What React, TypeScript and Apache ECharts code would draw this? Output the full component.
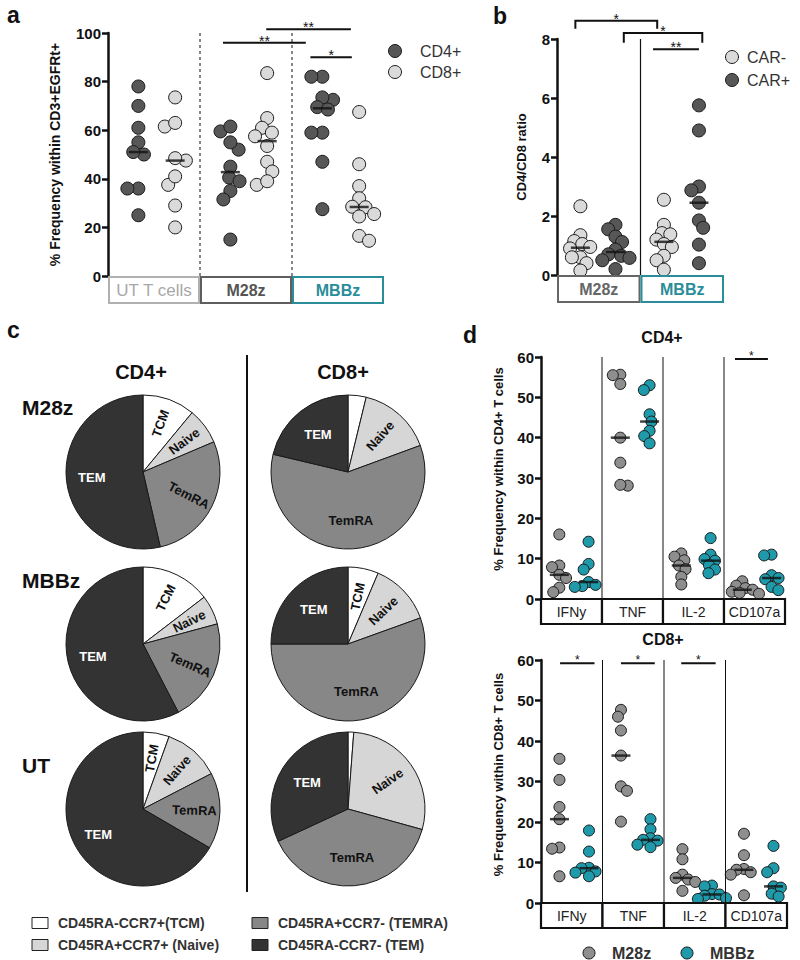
import React, { useEffect, useRef } from "react";
import * as echarts from "echarts";

const FONT = 'Arial, "Liberation Sans", Helvetica, sans-serif';

// ---------------- Panel a data ----------------
const aGroups = ["UT T cells", "M28z", "MBBz"];
const aSeriesNames = ["CD4+", "CD8+"];
const aCD4 = [
  [78, 70, 61, 55, 50, 51, 36, 36, 25],
  [59.5, 61.5, 52, 55, 45, 40.5, 39, 35, 31.5, 15],
  [82, 82, 72.5, 73.5, 69.5, 68.5, 59, 59, 47, 27.5],
];
const aCD8 = [
  [73.5, 61.5, 63, 47.5, 48.5, 37.5, 41, 29, 20],
  [83.5, 65, 61, 59, 57.5, 53.5, 47, 43, 37.5, 39],
  [67.5, 46, 37, 32, 28.3, 28.5, 24.5, 25.5, 16.5, 14.5],
];
const aYMax = 100;
const aYInterval = 20;
// [fromX, toX, y, label] in axis units
const aSig: [number, number, number, string][] = [
  [1.25, 2.15, 96, "**"],
  [1.72, 2.64, 101.5, "**"],
  [2.2, 2.65, 90, "*"],
];

// ---------------- Panel b data ----------------
const bGroups = ["M28z", "MBBz"];
const bSeriesNames = ["CAR-", "CAR+"];
const bCARneg = [
  [2.33, 1.35, 1.15, 1.05, 0.95, 0.9, 0.6, 0.6, 0.4, 0.15],
  [2.55, 1.7, 1.42, 1.38, 1.2, 1.05, 0.95, 0.65, 0.5, 0.18],
];
const bCARpos = [
  [1.7, 1.55, 1.3, 1.12, 0.86, 0.7, 0.65, 0.58, 0.5, 0.2],
  [5.75, 4.9, 3.0, 2.87, 2.45, 1.85, 1.6, 1.03, 0.4],
];
const bYMax = 8;
const bYInterval = 2;
// [fromX, toX, top, foot, label]
const bSig: [number, number, number, number, string][] = [
  [0.22, 1.2, 8.62, 8.35, "*"],
  [0.8, 1.74, 8.2, 7.87, "*"],
  [1.15, 1.7, 7.65, 7.65, "**"],
];

// ---------------- Panel c data ----------------
const subsetNames = ["TCM", "Naive", "TemRA", "TEM"];
const subsetLegend = [
  "CD45RA-CCR7+(TCM)",
  "CD45RA+CCR7+ (Naive)",
  "CD45RA+CCR7- (TEMRA)",
  "CD45RA-CCR7- (TEM)",
];
const pieRowNames = ["M28z", "MBBz", "UT"];
const pieColNames = ["CD4+", "CD8+"];
const pieCD4 = [
  [11, 7.6, 27.8, 53.6],
  [14.6, 6.2, 21.6, 57.6],
  [5.5, 11.9, 16, 66.6],
];
const pieCD8 = [
  [3.8, 15.6, 59.3, 21.3],
  [6.4, 13.1, 55.5, 25],
  [1.2, 28.1, 38.8, 31.9],
];

// ---------------- Panel d data ----------------
const dCats = ["IFNy", "TNF", "IL-2", "CD107a"];
const dSeriesNames = ["M28z", "MBBz"];
const dTitles = ["CD4+", "CD8+"];
const dCD4M28z = [
  [16, 8.3, 7.9, 6, 5.2, 2.8, 1.7],
  [55.6, 55.5, 53.3, 40, 33.8, 28.1, 28.3],
  [11.3, 10.5, 9.6, 8.3, 7.4, 5.5, 3.6],
  [4.4, 3.3, 2.7, 2.3, 1.8, 1.5, 1.3],
];
const dCD4MBBz = [
  [14.2, 8.7, 7.3, 4.2, 3.5, 3.2, 3.0],
  [53, 51.8, 45.8, 44, 41.7, 40.4, 38.6],
  [15.1, 11, 9.9, 9.5, 8.4, 7.3, 6.4],
  [11, 10.8, 5.9, 5.2, 4.9, 3, 2.2],
];
const dCD8M28z = [
  [35.6, 30.4, 23.7, 20.7, 13.7, 13.4, 6.6],
  [47.7, 46, 42.6, 36.4, 28.8, 27.7, 20.1],
  [13.3, 10.8, 7, 6.2, 5.8, 5.2, 3],
  [17.1, 11.8, 8.4, 8.2, 7.6, 7, 1.9],
];
const dCD8MBBz = [
  [17.9, 12.7, 8.7, 8.6, 7.8, 7.5, 6.6],
  [20.7, 18.2, 16, 15.6, 15.4, 14.4, 13.8],
  [4.3, 4.1, 2.2, 2.1, 1.8, 1.2, 1],
  [14.1, 8.6, 7.6, 4.1, 3.8, 2.3, 1.6],
];
const dYMax = 60;
const dYInterval = 10;
const d1Sig: [number, number, number, string][] = [[3.18, 3.72, 59.5, "*"]];
const d2Sig: [number, number, number, string][] = [
  [0.31, 0.87, 59.2, "*"],
  [1.3, 1.85, 59.2, "*"],
  [2.28, 2.84, 59.2, "*"],
];

// ---------------- Layout / style ----------------
type Box = { left: number; top: number; width: number; height: number };
const A: Box = { left: 108, top: 33, width: 276, height: 243 };
const B: Box = { left: 557, top: 39, width: 167, height: 236 };
const D1: Box = { left: 541, top: 357, width: 244, height: 242 };
const D2: Box = { left: 541, top: 660, width: 246, height: 243 };
const PIE = { cx: [143, 348], cy: [472, 644, 809], r: 77 };

const DARK = "#575757";
const LIGHT = "#dadada";
const GREY_D = "#8e8e8e";
const TEAL = "#1f9aab";
const TEAL_BOX = "#2a8d99";
const subsetColors = ["#ffffff", "#d6d6d6", "#878787", "#333333"];

function median(a: number[]) {
  const s = [...a].sort((x, y) => x - y);
  const n = s.length;
  return n % 2 ? s[(n - 1) / 2] : (s[n / 2 - 1] + s[n / 2]) / 2;
}

// simple beeswarm: returns horizontal pixel offsets
function swarm(values: number[], pxPerUnit: number, d: number): number[] {
  const order = values.map((_, i) => i).sort((a, b) => values[b] - values[a]);
  const placed: { x: number; y: number }[] = [];
  const out: number[] = new Array(values.length).fill(0);
  let flip = 1;
  for (const i of order) {
    const y = values[i] * pxPerUnit;
    const near = placed.filter((p) => Math.abs(p.y - y) < d);
    const cands = [0];
    near.forEach((p) => {
      const w = Math.sqrt(d * d - (p.y - y) * (p.y - y));
      cands.push(p.x + w, p.x - w);
    });
    cands.sort((a, b) => Math.abs(a) - Math.abs(b) || flip * (a - b));
    let x = 0;
    for (const c of cands) {
      if (near.every((p) => Math.hypot(p.x - c, p.y - y) >= d - 0.01)) {
        x = c;
        break;
      }
    }
    if (x !== 0) flip = -flip;
    placed.push({ x, y });
    out[i] = x;
  }
  return out;
}

function swarmPoints(values: number[], xc: number, pxY: number, pxX: number, d: number) {
  const offs = swarm(values, pxY, d);
  return values.map((v, i) => [xc + offs[i] / pxX, v]);
}

const mapX = (P: Box, n: number, v: number) => P.left + (v / n) * P.width;
const mapY = (P: Box, max: number, v: number) => P.top + (1 - v / max) * P.height;

function buildOption() {
  const G: any[] = [];
  const txt = (x: number, y: number, text: string, o: any = {}) =>
    G.push({
      type: "text",
      x,
      y,
      rotation: o.rotation || 0,
      silent: true,
      z: 10,
      style: {
        text,
        fill: o.color || "#111",
        font: `${o.weight || "normal"} ${o.size || 14}px ${FONT}`,
        align: o.align || "center",
        verticalAlign: o.va || "middle",
        textAlign: o.align || "center",
        textVerticalAlign: o.va || "middle",
      },
    });
  const line = (x1: number, y1: number, x2: number, y2: number, o: any = {}) =>
    G.push({
      type: "line",
      silent: true,
      z: 10,
      shape: { x1, y1, x2, y2 },
      style: { stroke: o.color || "#111", lineWidth: o.width || 1, lineDash: o.dash || null },
    });
  const rect = (x: number, y: number, w: number, h: number, stroke: string, lw: number, fill = "#fff") =>
    G.push({
      type: "rect",
      silent: true,
      z: 9,
      shape: { x, y, width: w, height: h },
      style: { fill, stroke, lineWidth: lw },
    });
  const circle = (cx: number, cy: number, r: number, fill: string) =>
    G.push({
      type: "circle",
      silent: true,
      z: 10,
      shape: { cx, cy, r },
      style: { fill, stroke: "#1a1a1a", lineWidth: 1 },
    });

  // ---------- panel labels ----------
  txt(7, 15, "a", { size: 23, weight: "bold", align: "left" });
  txt(493, 16, "b", { size: 23, weight: "bold", align: "left" });
  txt(7, 330, "c", { size: 23, weight: "bold", align: "left" });
  txt(463, 335, "d", { size: 23, weight: "bold", align: "left" });

  // ---------- panel a ----------
  for (let k = 1; k < aGroups.length; k++) {
    line(mapX(A, 3, k), A.top, mapX(A, 3, k), A.top + A.height, { dash: [3, 3], width: 1 });
  }
  const aBoxStroke = ["#b0b0b0", "#5e5e5e", TEAL_BOX];
  const aBoxText = ["#a8a8a8", "#555555", TEAL_BOX];
  const aBoxWeight = ["normal", "bold", "bold"];
  const aBoxSize = [17, 16, 16];
  aGroups.forEach((g, gi) => {
    const x0 = mapX(A, 3, gi);
    const w = A.width / 3;
    rect(x0 + 1, A.top + A.height + 1, w - 2, 26, aBoxStroke[gi], 2);
    txt(x0 + w / 2, A.top + A.height + 14.5, g, {
      color: aBoxText[gi],
      weight: aBoxWeight[gi],
      size: aBoxSize[gi],
    });
  });
  aSig.forEach(([x1, x2, y, lab]) => {
    const yy = mapY(A, aYMax, y);
    line(mapX(A, 3, x1), yy, mapX(A, 3, x2), yy, { width: 2 });
    txt((mapX(A, 3, x1) + mapX(A, 3, x2)) / 2, yy - 2, lab, { size: 14 });
  });
  // legend a
  circle(395, 51, 6.5, DARK);
  txt(420, 51, aSeriesNames[0], { size: 16, align: "left", color: "#333" });
  circle(395, 72, 6.5, LIGHT);
  txt(420, 72, aSeriesNames[1], { size: 16, align: "left", color: "#333" });

  // ---------- panel b ----------
  line(mapX(B, 2, 1), B.top, mapX(B, 2, 1), B.top + B.height, { width: 1.2 });
  const bBoxStroke = ["#666666", TEAL_BOX];
  const bBoxText = ["#666666", TEAL_BOX];
  bGroups.forEach((g, gi) => {
    const x0 = mapX(B, 2, gi);
    const w = B.width / 2;
    rect(x0 + 1, B.top + B.height + 1, w - 2, 26, bBoxStroke[gi], 2);
    txt(x0 + w / 2, B.top + B.height + 14.5, g, { color: bBoxText[gi], weight: "bold", size: 16 });
  });
  bSig.forEach(([x1, x2, top, foot, lab]) => {
    const X1 = mapX(B, 2, x1);
    const X2 = mapX(B, 2, x2);
    const yt = mapY(B, bYMax, top);
    const yf = mapY(B, bYMax, foot);
    G.push({
      type: "polyline",
      silent: true,
      z: 10,
      shape: { points: [[X1, yf], [X1, yt], [X2, yt], [X2, yf]] },
      style: { stroke: "#111", lineWidth: 2, fill: null },
    });
    txt((X1 + X2) / 2, yt - 2, lab, { size: 14 });
  });
  circle(732, 57, 6.5, LIGHT);
  txt(747, 57, bSeriesNames[0], { size: 16, align: "left", color: "#333" });
  circle(732, 80, 6.5, DARK);
  txt(747, 80, bSeriesNames[1], { size: 16, align: "left", color: "#333" });

  // ---------- panel c ----------
  pieColNames.forEach((c, ci) => txt(ci === 0 ? 141 : 343, 372, c, { size: 20, weight: "bold" }));
  const rowY = [407.5, 580.5, 765.5];
  pieRowNames.forEach((r, ri) => txt(22, rowY[ri], r, { size: 21, weight: "bold", align: "left" }));
  line(247, 355, 247, 892, { width: 2 });
  const legPos = [
    [32, 923],
    [32, 945],
    [252, 923],
    [252, 945],
  ];
  subsetLegend.forEach((t, i) => {
    const [x, y] = legPos[i];
    rect(x, y - 5.5, 16, 11, "#222", 1, subsetColors[i]);
    txt(x + 26, y, t, { size: 14, weight: "bold", align: "left", color: "#333" });
  });

  // ---------- panel d ----------
  [D1, D2].forEach((P, pi) => {
    txt(P.left + P.width / 2 - 1, pi === 0 ? 337.5 : 639.5, dTitles[pi], { size: 16, weight: "bold" });
    for (let k = 1; k < dCats.length; k++) {
      line(mapX(P, 4, k), P.top, mapX(P, 4, k), P.top + P.height, { width: 1 });
    }
    dCats.forEach((c, ci) => {
      const x0 = mapX(P, 4, ci);
      const w = P.width / 4;
      rect(x0, P.top + P.height, w, 25, "#111", 2.2);
      txt(x0 + w / 2, P.top + P.height + 13, c, { size: 14, color: "#222" });
    });
    (pi === 0 ? d1Sig : d2Sig).forEach(([x1, x2, y, lab]) => {
      const yy = mapY(P, dYMax, y);
      line(mapX(P, 4, x1), yy, mapX(P, 4, x2), yy, { width: 2 });
      txt((mapX(P, 4, x1) + mapX(P, 4, x2)) / 2, yy - 3, lab, { size: 12 });
    });
  });
  circle(589, 953, 6, GREY_D);
  txt(612, 953, dSeriesNames[0], { size: 16, weight: "bold", align: "left", color: "#333" });
  circle(687, 953, 6, TEAL);
  txt(710, 953, dSeriesNames[1], { size: 16, weight: "bold", align: "left", color: "#333" });

  // ---------- axes ----------
  const grids = [A, B, D1, D2].map((P) => ({
    left: P.left,
    top: P.top,
    width: P.width,
    height: P.height,
    containLabel: false,
    outerBoundsMode: "none",
  }));
  const xMax = [3, 2, 4, 4];
  const xAxis = xMax.map((m, i) => ({ type: "value", gridIndex: i, min: 0, max: m, show: false }));
  const yAx = (i: number, max: number, interval: number, name: string, gap: number, nameSize: number, pad?: number[]) => ({
    type: "value",
    gridIndex: i,
    min: 0,
    max,
    interval,
    axisLine: { show: true, onZero: false, lineStyle: { color: "#111", width: 2.5 } },
    axisTick: { show: true, length: 6, lineStyle: { color: "#111", width: 2.5 } },
    axisLabel: { color: "#111", fontSize: 15, fontWeight: "bold", fontFamily: FONT, margin: 7 },
    splitLine: { show: false },
    name,
    nameLocation: "middle",
    nameGap: gap,
    nameTextStyle: {
      color: "#111",
      fontSize: nameSize,
      fontWeight: "bold",
      fontFamily: FONT,
      padding: pad || 0,
    },
  });
  const yAxis = [
    yAx(0, aYMax, aYInterval, "% Frequency within CD3+EGFRt+", 46, 14),
    yAx(1, bYMax, bYInterval, "CD4/CD8 ratio", 29, 13),
    yAx(2, dYMax, dYInterval, "% Frequency within CD4+ T cells", 36, 13, [0, 0, 0, 18]),
    yAx(3, dYMax, dYInterval, "% Frequency within CD8+ T cells", 36, 13, [0, 0, 0, 14]),
  ];

  // ---------- series ----------
  const series: any[] = [];
  const sc = (name: string, idx: number, size: number, color: string, data: any[]) => ({
    type: "scatter",
    name,
    xAxisIndex: idx,
    yAxisIndex: idx,
    symbolSize: size,
    silent: true,
    z: 3,
    itemStyle: { color, borderColor: "#1a1a1a", borderWidth: 1, opacity: 1 },
    data,
  });
  const med = (idx: number, data: any[]) => ({
    type: "scatter",
    name: "median",
    xAxisIndex: idx,
    yAxisIndex: idx,
    symbol: "rect",
    symbolSize: [19, 2.5],
    silent: true,
    z: 5,
    itemStyle: { color: "#111" },
    data,
  });

  // panel a
  const aPxY = A.height / aYMax;
  const aPxX = A.width / 3;
  const aOff = [0.33, 0.73];
  [aCD4, aCD8].forEach((src, si) => {
    series.push(
      sc(
        aSeriesNames[si],
        0,
        13,
        si === 0 ? DARK : LIGHT,
        aGroups.flatMap((_, g) => swarmPoints(src[g], g + aOff[si], aPxY, aPxX, 11))
      )
    );
    series.push(med(0, aGroups.map((_, g) => [g + aOff[si], median(src[g])])));
  });

  // panel b
  const bPxY = B.height / bYMax;
  const bPxX = B.width / 2;
  const bOff = [0.28, 0.7];
  [bCARneg, bCARpos].forEach((src, si) => {
    series.push(
      sc(
        bSeriesNames[si],
        1,
        13,
        si === 0 ? LIGHT : DARK,
        bGroups.flatMap((_, g) => swarmPoints(src[g], g + bOff[si], bPxY, bPxX, 8.5))
      )
    );
    series.push(med(1, bGroups.map((_, g) => [g + bOff[si], median(src[g])])));
  });

  // panel d
  const dOff = [0.3, 0.78];
  [
    [dCD4M28z, dCD4MBBz],
    [dCD8M28z, dCD8MBBz],
  ].forEach((pair, pi) => {
    const P = pi === 0 ? D1 : D2;
    const idx = 2 + pi;
    const pxY = P.height / dYMax;
    const pxX = P.width / 4;
    pair.forEach((src, si) => {
      series.push(
        sc(
          dSeriesNames[si],
          idx,
          11,
          si === 0 ? GREY_D : TEAL,
          dCats.flatMap((_, c) => swarmPoints(src[c], c + dOff[si], pxY, pxX, 7.5))
        )
      );
      series.push(med(idx, dCats.map((_, c) => [c + dOff[si], median(src[c])])));
    });
  });

  // panel c pies
  pieRowNames.forEach((_, ri) => {
    [pieCD4, pieCD8].forEach((src, ci) => {
      const center = [PIE.cx[ci], PIE.cy[ri]];
      series.push({
        type: "pie",
        center,
        radius: PIE.r,
        startAngle: 90,
        clockwise: true,
        silent: true,
        avoidLabelOverlap: false,
        label: { show: false },
        labelLine: { show: false },
        itemStyle: { borderColor: "#1a1a1a", borderWidth: 1 },
        data: subsetNames.map((n, i) => ({
          name: n,
          value: src[ri][i],
          itemStyle: { color: subsetColors[i] },
        })),
      });
      series.push({
        type: "pie",
        center,
        radius: [PIE.r * (ci === 0 ? 0.26 : 0.18), PIE.r],
        startAngle: 90,
        clockwise: true,
        silent: true,
        z: 4,
        avoidLabelOverlap: false,
        labelLine: { show: false },
        itemStyle: { color: "rgba(0,0,0,0)", borderWidth: 0 },
        data: subsetNames.map((n, i) => {
          const v = src[ri][i];
          const rotate = ci === 0 ? (i < 3 ? "radial" : 0) : i < 2 ? "radial" : 0;
          return {
            name: n,
            value: v,
            label: {
              show: !(ci === 1 && i === 0 && v < 5),
              position: "inside",
              rotate,
              formatter: "{b}",
              color: i === 3 ? "#ffffff" : "#111111",
              fontSize: 13,
              fontWeight: "bold",
              fontFamily: FONT,
            },
          };
        }),
      });
    });
  });

  return {
    animation: false,
    backgroundColor: "#ffffff",
    textStyle: { fontFamily: FONT },
    grid: grids,
    xAxis,
    yAxis,
    series,
    graphic: { elements: G },
  };
}

export default function App() {
  const ref = useRef<HTMLDivElement>(null);
  useEffect(() => {
    if (!ref.current) return;
    const chart = echarts.init(ref.current, undefined, { renderer: "svg" });
    chart.setOption(buildOption() as any);
    return () => chart.dispose();
  }, []);
  return (
    <div
      ref={ref}
      style={{ position: "absolute", left: 0, top: 0, width: 800, height: 960, background: "#fff" }}
    />
  );
}
